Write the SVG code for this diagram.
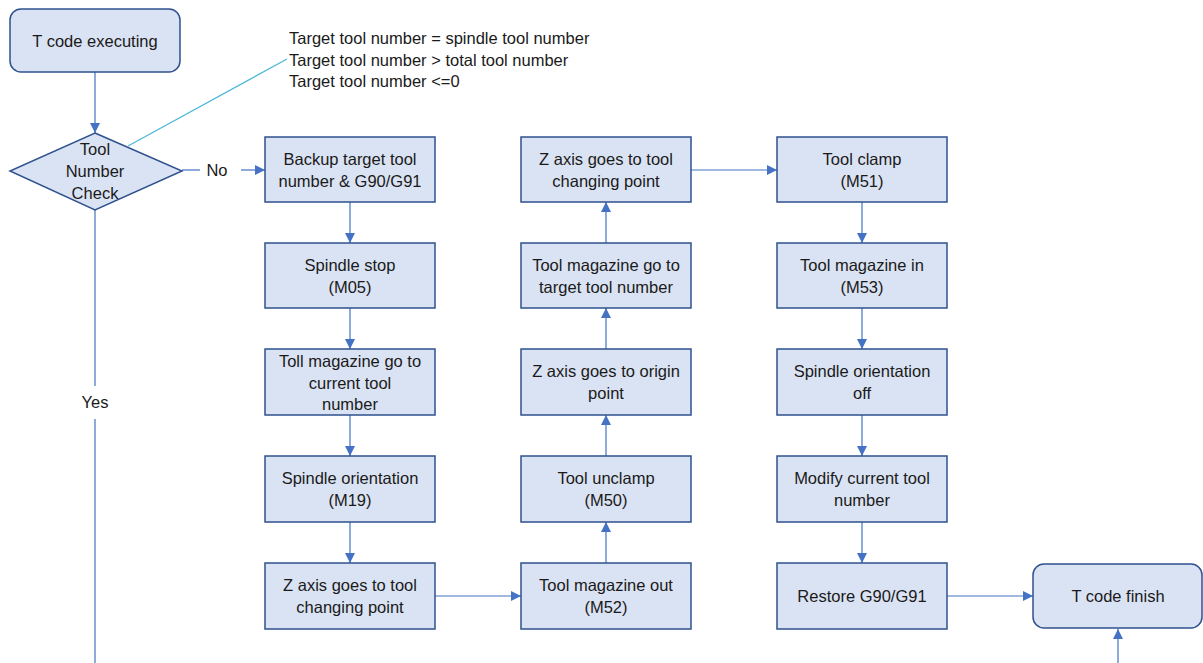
<svg xmlns="http://www.w3.org/2000/svg" width="1203" height="663" viewBox="0 0 1203 663">
<defs>
<marker id="ah" viewBox="0 0 10 10" refX="10" refY="5" markerWidth="10" markerHeight="10" markerUnits="userSpaceOnUse" orient="auto">
<path d="M0,0 L10,5 L0,10 Z" fill="#4472C4"/>
</marker>
<style>
.box{fill:#DAE3F3;stroke:#2F528F;stroke-width:1.5}
.t{font-family:"Liberation Sans",Arial,sans-serif;font-size:16.5px;fill:#1a1a1a;text-anchor:middle;dominant-baseline:central}
.tl{font-family:"Liberation Sans",Arial,sans-serif;font-size:16.5px;fill:#1a1a1a;dominant-baseline:central}
.c{fill:none;stroke:#4472C4;stroke-width:1.2}
.ca{fill:none;stroke:#4472C4;stroke-width:1.2;marker-end:url(#ah)}
.call{fill:none;stroke:#4BB6D8;stroke-width:1.2}
</style>
</defs>
<rect width="1203" height="663" fill="#ffffff"/>

<g id="connectors">
<line class="ca" x1="95" y1="72" x2="95" y2="133"/>
<line class="c" x1="182" y1="170" x2="200" y2="170"/>
<line class="ca" x1="241" y1="170" x2="265" y2="170"/>
<line class="c" x1="95" y1="210" x2="95" y2="386"/>
<line class="c" x1="95" y1="419" x2="95" y2="663"/>
<line class="call" x1="128" y1="146" x2="287" y2="59"/>
<line class="ca" x1="350" y1="202" x2="350" y2="243"/>
<line class="ca" x1="350" y1="308" x2="350" y2="349"/>
<line class="ca" x1="350" y1="415" x2="350" y2="456"/>
<line class="ca" x1="350" y1="522" x2="350" y2="563"/>
<line class="ca" x1="435" y1="596" x2="521" y2="596"/>
<line class="ca" x1="606" y1="563" x2="606" y2="522"/>
<line class="ca" x1="606" y1="456" x2="606" y2="415"/>
<line class="ca" x1="606" y1="349" x2="606" y2="308"/>
<line class="ca" x1="606" y1="243" x2="606" y2="202"/>
<line class="ca" x1="691" y1="170" x2="777" y2="170"/>
<line class="ca" x1="862" y1="202" x2="862" y2="243"/>
<line class="ca" x1="862" y1="308" x2="862" y2="349"/>
<line class="ca" x1="862" y1="415" x2="862" y2="456"/>
<line class="ca" x1="862" y1="522" x2="862" y2="563"/>
<line class="ca" x1="947" y1="596" x2="1033" y2="596"/>
<line class="ca" x1="1118" y1="663" x2="1118" y2="629"/>
<text class="t" x="217" y="170">No</text>
<text class="t" x="95" y="402">Yes</text>
</g>

<g id="note">
<text class="tl" x="289" y="38">Target tool number = spindle tool number</text>
<text class="tl" x="289" y="60">Target tool number &gt; total tool number</text>
<text class="tl" x="289" y="81">Target tool number &lt;=0</text>
</g>

<g id="start">
<rect class="box" x="10" y="9" width="170" height="63" rx="11"/>
<text class="t" x="95" y="41">T code executing</text>
</g>

<g id="check">
<polygon class="box" points="95,133 182,171 95,210 10,171"/>
<text class="t" x="95" y="149">Tool</text>
<text class="t" x="95" y="171">Number</text>
<text class="t" x="95" y="193">Check</text>
</g>

<g id="n1"><rect class="box" x="265" y="137" width="170" height="65"/>
<text class="t" x="350" y="159">Backup target tool</text><text class="t" x="350" y="181">number &amp; G90/G91</text></g>
<g id="n2"><rect class="box" x="265" y="243" width="170" height="65"/>
<text class="t" x="350" y="265">Spindle stop</text><text class="t" x="350" y="287">(M05)</text></g>
<g id="n3"><rect class="box" x="265" y="349" width="170" height="66"/>
<text class="t" x="350" y="361">Toll magazine go to</text><text class="t" x="350" y="383">current tool</text><text class="t" x="350" y="404">number</text></g>
<g id="n4"><rect class="box" x="265" y="456" width="170" height="66"/>
<text class="t" x="350" y="478">Spindle orientation</text><text class="t" x="350" y="500">(M19)</text></g>
<g id="n5"><rect class="box" x="265" y="563" width="170" height="66"/>
<text class="t" x="350" y="585">Z axis goes to tool</text><text class="t" x="350" y="607">changing point</text></g>

<g id="n6"><rect class="box" x="521" y="563" width="170" height="66"/>
<text class="t" x="606" y="585">Tool magazine out</text><text class="t" x="606" y="607">(M52)</text></g>
<g id="n7"><rect class="box" x="521" y="456" width="170" height="66"/>
<text class="t" x="606" y="478">Tool unclamp</text><text class="t" x="606" y="500">(M50)</text></g>
<g id="n8"><rect class="box" x="521" y="349" width="170" height="66"/>
<text class="t" x="606" y="371">Z axis goes to origin</text><text class="t" x="606" y="393">point</text></g>
<g id="n9"><rect class="box" x="521" y="243" width="170" height="65"/>
<text class="t" x="606" y="265">Tool magazine go to</text><text class="t" x="606" y="287">target tool number</text></g>
<g id="n10"><rect class="box" x="521" y="137" width="170" height="65"/>
<text class="t" x="606" y="159">Z axis goes to tool</text><text class="t" x="606" y="181">changing point</text></g>

<g id="n11"><rect class="box" x="777" y="137" width="170" height="65"/>
<text class="t" x="862" y="159">Tool clamp</text><text class="t" x="862" y="181">(M51)</text></g>
<g id="n12"><rect class="box" x="777" y="243" width="170" height="65"/>
<text class="t" x="862" y="265">Tool magazine in</text><text class="t" x="862" y="287">(M53)</text></g>
<g id="n13"><rect class="box" x="777" y="349" width="170" height="66"/>
<text class="t" x="862" y="371">Spindle orientation</text><text class="t" x="862" y="393">off</text></g>
<g id="n14"><rect class="box" x="777" y="456" width="170" height="66"/>
<text class="t" x="862" y="478">Modify current tool</text><text class="t" x="862" y="500">number</text></g>
<g id="n15"><rect class="box" x="777" y="563" width="170" height="66"/>
<text class="t" x="862" y="596">Restore G90/G91</text></g>

<g id="finish"><rect class="box" x="1033" y="564" width="169" height="64" rx="11"/>
<text class="t" x="1118" y="596">T code finish</text></g>
</svg>
